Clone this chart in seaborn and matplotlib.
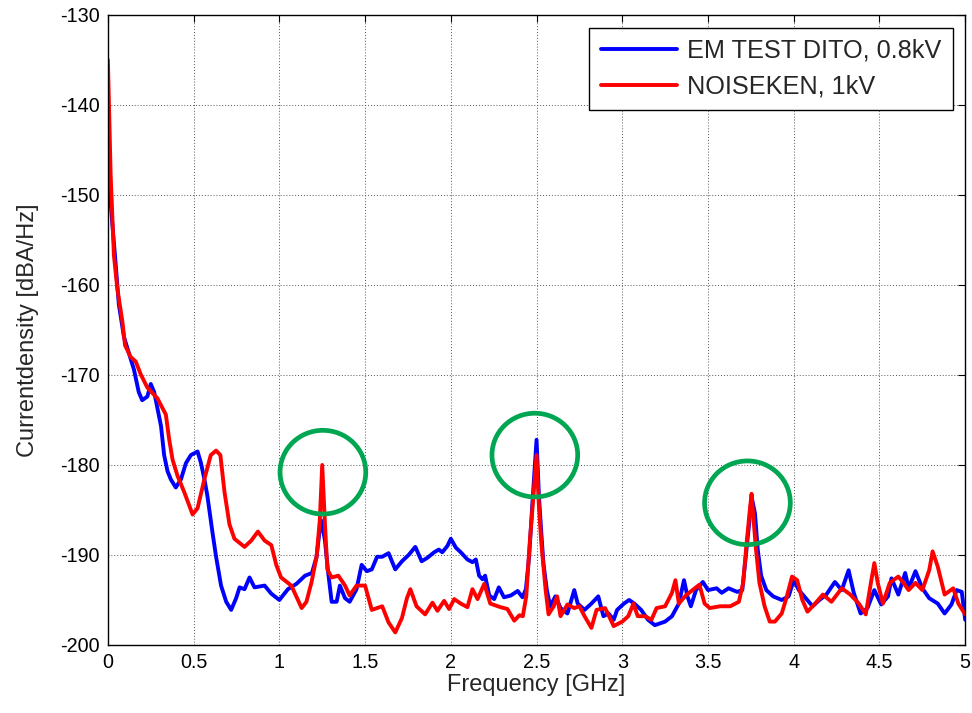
import numpy as np
import pandas as pd
import matplotlib
matplotlib.use("Agg")
import matplotlib.pyplot as plt
from matplotlib.patches import Ellipse
import seaborn as sns

series_names = ["EM TEST DITO, 0.8kV", "NOISEKEN, 1kV"]

blue_f = [0.0, 0.025, 0.045, 0.064, 0.094, 0.123, 0.152, 0.18, 0.2, 0.23, 0.25, 0.27, 0.289, 0.31, 0.328,
          0.348, 0.367, 0.396, 0.426, 0.455, 0.484, 0.523, 0.543, 0.563, 0.58, 0.61, 0.631, 0.66, 0.69,
          0.719, 0.748, 0.768, 0.797, 0.826, 0.855, 0.914, 0.953, 1.0, 1.05, 1.1, 1.15, 1.19, 1.217,
          1.236, 1.246, 1.266, 1.285, 1.305, 1.334, 1.353, 1.383, 1.41, 1.45, 1.48, 1.51, 1.539, 1.57,
          1.6, 1.637, 1.676, 1.715, 1.754, 1.793, 1.83, 1.864, 1.903, 1.93, 1.95, 1.98, 2.0, 2.03, 2.058,
          2.097, 2.126, 2.146, 2.165, 2.185, 2.2, 2.224, 2.253, 2.28, 2.31, 2.35, 2.39, 2.418, 2.438,
          2.457, 2.477, 2.5, 2.514, 2.528, 2.54, 2.56, 2.58, 2.61, 2.64, 2.68, 2.72, 2.74, 2.78, 2.82,
          2.86, 2.89, 2.92, 2.95, 2.97, 3.01, 3.04, 3.07, 3.11, 3.15, 3.19, 3.25, 3.29, 3.33, 3.36, 3.38,
          3.40, 3.43, 3.47, 3.5, 3.55, 3.58, 3.62, 3.67, 3.70, 3.72, 3.74, 3.754, 3.774, 3.79, 3.81,
          3.84, 3.88, 3.93, 3.97, 4.0, 4.03, 4.07, 4.11, 4.15, 4.19, 4.24, 4.28, 4.32, 4.35, 4.39, 4.43,
          4.47, 4.51, 4.55, 4.57, 4.61, 4.65, 4.67, 4.71, 4.75, 4.79, 4.84, 4.88, 4.92, 4.95, 4.98, 5.0]
blue_db = [-146.8, -153, -157.6, -162.2, -165.8, -167.6, -169.4, -171.9, -172.8, -172.4, -171, -171.9,
           -173.7, -175.7, -178.9, -180.7, -181.6, -182.5, -181.6, -179.8, -178.9, -178.5, -179.8, -181.6,
           -183.4, -187.5, -190.2, -193.4, -195.2, -196.1, -194.8, -193.6, -193.8, -192.5, -193.6, -193.4,
           -194.3, -195, -193.8, -193.2, -192.3, -192, -190.2, -187.1, -186.2, -188.4, -192, -195.2,
           -195.2, -193.4, -194.8, -195.2, -193.8, -191.1, -191.8, -191.6, -190.2, -190.2, -189.8, -191.6,
           -190.7, -190, -189.1, -190.7, -190.3, -189.7, -189.4, -189.7, -189, -188.2, -189.2, -189.7,
           -190.5, -190.8, -190.5, -192.3, -192.7, -192.3, -194.5, -194.9, -193.6, -194.7, -194.5, -194,
           -194.7, -193.8, -190.1, -183.9, -177.2, -183.5, -187.6, -190.9, -193.9, -195.7, -194.6, -195.9,
           -196.5, -193.9, -195.4, -196.1, -195.4, -194.6, -196.8, -196.5, -197.2, -196.1, -195.4, -195,
           -195.4, -196.1, -197.2, -197.8, -197.4, -196.8, -195.4, -192.8, -194.6, -195.7, -193.9, -193,
           -193.9, -193.7, -194.2, -193.7, -194.1, -193.9, -190.2, -186.5, -183.5, -185.4, -189.4, -192.3,
           -193.9, -194.6, -195, -194.6, -192.8, -193.9, -194.8, -195.7, -195, -194.4, -193, -193.9,
           -191.7, -194.2, -196.5, -195.9, -193.9, -195.5, -194.6, -192.6, -194.4, -192, -193.7, -191.8,
           -193.7, -194.8, -195.4, -196.5, -195.5, -193.9, -194.1, -197.2]

red_f = [0.0, 0.016, 0.035, 0.055, 0.084, 0.10, 0.133, 0.162, 0.191, 0.23, 0.289, 0.338, 0.357, 0.377,
         0.406, 0.445, 0.494, 0.523, 0.5625, 0.60, 0.631, 0.656, 0.68, 0.709, 0.738, 0.797, 0.836, 0.875,
         0.914, 0.953, 0.982, 1.01, 1.07, 1.13, 1.158, 1.188, 1.217, 1.236, 1.25, 1.266, 1.28, 1.305,
         1.344, 1.383, 1.41, 1.45, 1.5, 1.539, 1.6, 1.637, 1.676, 1.715, 1.744, 1.764, 1.8, 1.85, 1.893,
         1.922, 1.961, 1.99, 2.02, 2.058, 2.097, 2.126, 2.156, 2.195, 2.23, 2.29, 2.33, 2.37, 2.40, 2.42,
         2.44, 2.46, 2.48, 2.5, 2.514, 2.528, 2.553, 2.57, 2.6, 2.62, 2.64, 2.68, 2.72, 2.75, 2.78, 2.82,
         2.85, 2.90, 2.95, 3.0, 3.035, 3.065, 3.09, 3.134, 3.17, 3.20, 3.25, 3.29, 3.31, 3.33, 3.37, 3.41,
         3.45, 3.48, 3.51, 3.57, 3.63, 3.68, 3.705, 3.725, 3.744, 3.754, 3.764, 3.78, 3.80, 3.83, 3.86,
         3.89, 3.93, 3.96, 3.99, 4.02, 4.05, 4.08, 4.12, 4.17, 4.22, 4.28, 4.33, 4.38, 4.42, 4.45, 4.47,
         4.49, 4.52, 4.56, 4.61, 4.64, 4.67, 4.71, 4.75, 4.79, 4.81, 4.84, 4.88, 4.93, 4.96, 5.0]
red_db = [-135, -147.7, -156.7, -160.4, -164, -166.7, -168, -168.5, -169.9, -171.4, -172.6, -174.4, -177.1,
          -179.4, -181.2, -183, -185.5, -184.8, -181.6, -178.9, -178.4, -178.9, -183, -186.6, -188.2,
          -189.1, -188.4, -187.4, -188.4, -188.9, -191.1, -192.5, -193.4, -195.9, -195.2, -193, -190.2,
          -186.1, -180, -186.6, -191.6, -192.5, -192.3, -193.4, -194.5, -193.4, -193.4, -196.1, -195.7,
          -197.5, -198.6, -197, -194.8, -193.8, -195.7, -196.6, -195.3, -196.2, -195.1, -196, -194.9,
          -195.4, -195.8, -193.8, -194.9, -193.2, -195.4, -195.8, -196, -197.3, -196.7, -196.8, -194.6,
          -188.7, -183.9, -178.9, -184.6, -188.7, -193.9, -196.6, -195.7, -194.6, -196.8, -195.5, -195.9,
          -195.7, -196.8, -198.1, -196.1, -195.9, -197.9, -197.4, -196.8, -195.4, -196.8, -196.8, -197.2,
          -195.9, -195.7, -194.2, -192.8, -195.4, -194.5, -193.9, -193.3, -195.4, -195.9, -195.7, -195.7,
          -195.2, -193.1, -188.7, -185, -183.2, -185.7, -189.4, -193.1, -195.7, -197.4, -197.4, -196.5,
          -194.6, -192.4, -192.8, -195, -196.3, -195.5, -194.4, -195.2, -193.7, -194.4, -195.4, -196.6,
          -193.1, -190.9, -193.1, -195.4, -193.1, -192.4, -193.1, -193.9, -193.1, -193.9, -191.7, -189.6,
          -191.3, -194.4, -193.7, -195.4, -196.6]

circle_x = [1.254, 2.49, 3.73]
circle_y = [-180.8, -178.9, -184.2]

x_ticks = [0, 0.5, 1, 1.5, 2, 2.5, 3, 3.5, 4, 4.5, 5]
x_tick_labels = ["0", "0.5", "1", "1.5", "2", "2.5", "3", "3.5", "4", "4.5", "5"]
y_ticks = [-200, -190, -180, -170, -160, -150, -140, -130]

df = pd.concat([
    pd.DataFrame({"f": blue_f, "db": blue_db, "series": series_names[0]}),
    pd.DataFrame({"f": red_f, "db": red_db, "series": series_names[1]}),
], ignore_index=True)

sns.set_theme(style="white")
plt.rcParams["font.family"] = ["Liberation Sans", "DejaVu Sans"]
plt.rcParams["axes.unicode_minus"] = False

fig = plt.figure(figsize=(9.72, 7.13), dpi=100)
ax = fig.add_axes([0.111, 0.0954, 0.882, 0.8836])

sns.lineplot(data=df, x="f", y="db", hue="series", hue_order=series_names,
             palette=["#0000FF", "#FF0000"], estimator=None, sort=False,
             linewidth=2.8, ax=ax)

for cx, cy in zip(circle_x, circle_y):
    ax.add_patch(Ellipse((cx, cy), width=0.50, height=9.3, fill=False,
                         edgecolor="#00A651", linewidth=3.4, zorder=5))

ax.set_xlim(0, 5)
ax.set_ylim(-200, -130)
ax.set_xticks(x_ticks)
ax.set_xticklabels(x_tick_labels)
ax.set_yticks(y_ticks)
ax.grid(True, color="#555555", linestyle=(0, (1, 2)), linewidth=0.7)
ax.tick_params(direction="in", top=True, right=True, length=5, width=0.8,
               labelsize=14.2, colors="black", pad=6)
for s in ax.spines.values():
    s.set_color("black")
    s.set_linewidth(1.0)
ax.set_xlabel("Frequency [GHz]", fontsize=17, labelpad=1)
ax.set_ylabel("Currentdensity [dBA/Hz]", fontsize=17, labelpad=15)

leg = ax.legend(loc="upper right", fontsize=18.2, frameon=True, fancybox=False,
                framealpha=1, edgecolor="black", borderaxespad=0.5,
                handlelength=3.0, handletextpad=0.4, labelspacing=0.45, borderpad=0.45)
leg.get_frame().set_linewidth(1.0)
for line in leg.get_lines():
    line.set_linewidth(2.8)

fig.savefig("out.png", dpi=100)
